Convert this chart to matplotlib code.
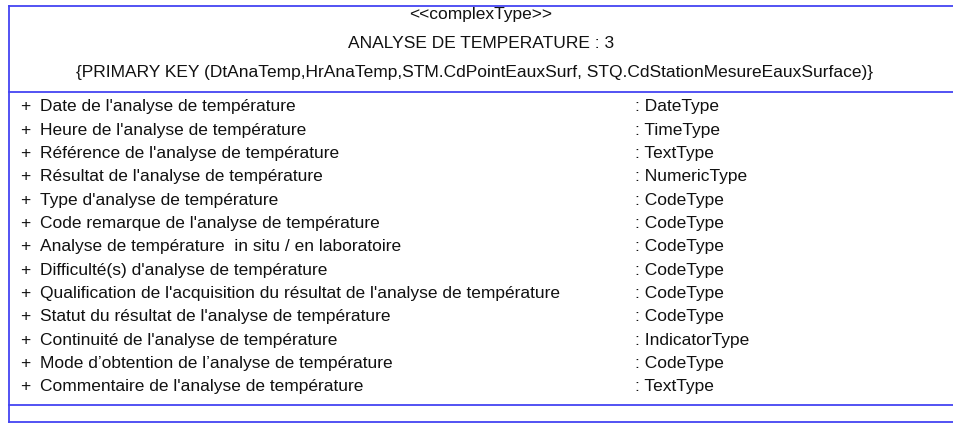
import matplotlib
matplotlib.use('Agg')
import matplotlib.pyplot as plt

plt.rcParams['font.family'] = ['Liberation Sans', 'DejaVu Sans']

stereotype = '<<complexType>>'
class_name = 'ANALYSE DE TEMPERATURE : 3'
primary_key = '{PRIMARY KEY (DtAnaTemp,HrAnaTemp,STM.CdPointEauxSurf, STQ.CdStationMesureEauxSurface)}'

attr_names = [
    "Date de l'analyse de température",
    "Heure de l'analyse de température",
    "Référence de l'analyse de température",
    "Résultat de l'analyse de température",
    "Type d'analyse de température",
    "Code remarque de l'analyse de température",
    "Analyse de température  in situ / en laboratoire",
    "Difficulté(s) d'analyse de température",
    "Qualification de l'acquisition du résultat de l'analyse de température",
    "Statut du résultat de l'analyse de température",
    "Continuité de l'analyse de température",
    "Mode d\u2019obtention de l\u2019analyse de température",
    "Commentaire de l'analyse de température",
]
attr_types = [
    'DateType', 'TimeType', 'TextType', 'NumericType', 'CodeType', 'CodeType',
    'CodeType', 'CodeType', 'CodeType', 'CodeType', 'IndicatorType', 'CodeType',
    'TextType',
]

W, H = 954, 423
fig = plt.figure(figsize=(W / 100, H / 100), dpi=100)
ax = fig.add_axes([0, 0, 1, 1])
ax.set_xlim(0, W)
ax.set_ylim(H, 0)
ax.axis('off')

blue = '#4444f2'
# contour de la classe (le bord droit sort de l'image)
ax.plot([9, 9], [6, 422], color=blue, lw=1.3)
for y in [6, 92, 405, 422]:
    ax.plot([9, W], [y, y], color=blue, lw=1.3)

fs = 12.5
txt = '#111111'
ax.text(481, 15, stereotype, ha='center', va='center', fontsize=fs, color=txt)
ax.text(481, 44, class_name, ha='center', va='center', fontsize=fs, color=txt)
ax.text(76, 73, primary_key, ha='left', va='center', fontsize=fs, color=txt)

y0, dy = 107, 23.3
for i, (name, typ) in enumerate(zip(attr_names, attr_types)):
    y = y0 + i * dy
    ax.text(20, y, '+', ha='left', va='center', fontsize=fs, color=txt)
    ax.text(40, y, name, ha='left', va='center', fontsize=fs, color=txt)
    ax.text(635, y, ': ' + typ, ha='left', va='center', fontsize=fs, color=txt)

plt.savefig('out.png', dpi=100)
plt.close()
